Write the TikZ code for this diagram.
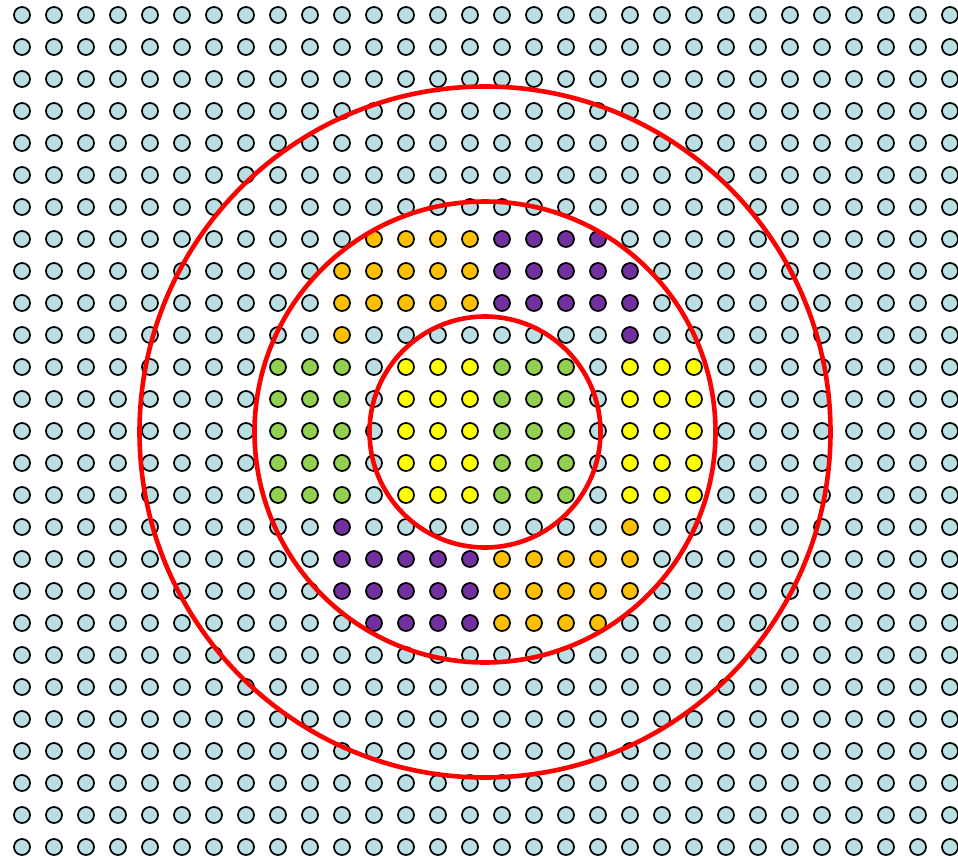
\documentclass[tikz,border=0pt]{standalone}
\definecolor{dotblue}{HTML}{B9DFE2}
\definecolor{dotorange}{HTML}{FFC000}
\definecolor{dotpurple}{HTML}{7030A0}
\definecolor{dotgreen}{HTML}{92D050}
\definecolor{dotyellow}{HTML}{FFFF00}
\definecolor{ringred}{HTML}{FF0000}
\begin{document}
\begin{tikzpicture}[x=1pt,y=-1pt,
  dot/.style={circle,draw=black,line width=1.7pt,minimum size=16pt,inner sep=0pt,fill=dotblue},
  ring/.style={draw=ringred,line width=4.6pt}]
\useasboundingbox (0,0) rectangle (958,859);
\foreach \i in {0,...,29}{
  \foreach \j in {0,...,26}{
    \def\col{dotblue}
    % orange top-left block
    \ifnum\j=7 \ifnum\i>10 \ifnum\i<15 \def\col{dotorange}\fi\fi\fi
    \ifnum\j>7 \ifnum\j<10 \ifnum\i>9 \ifnum\i<15 \def\col{dotorange}\fi\fi\fi\fi
    \ifnum\j=10 \ifnum\i=10 \def\col{dotorange}\fi\fi
    % purple top-right block
    \ifnum\j=7 \ifnum\i>14 \ifnum\i<19 \def\col{dotpurple}\fi\fi\fi
    \ifnum\j>7 \ifnum\j<10 \ifnum\i>14 \ifnum\i<20 \def\col{dotpurple}\fi\fi\fi\fi
    \ifnum\j=10 \ifnum\i=19 \def\col{dotpurple}\fi\fi
    % middle band
    \ifnum\j>10 \ifnum\j<16
      \ifnum\i>7 \ifnum\i<11 \def\col{dotgreen}\fi\fi
      \ifnum\i>11 \ifnum\i<15 \def\col{dotyellow}\fi\fi
      \ifnum\i>14 \ifnum\i<18 \def\col{dotgreen}\fi\fi
      \ifnum\i>18 \ifnum\i<22 \def\col{dotyellow}\fi\fi
    \fi\fi
    % purple bottom-left block
    \ifnum\j=16 \ifnum\i=10 \def\col{dotpurple}\fi\fi
    \ifnum\j>16 \ifnum\j<19 \ifnum\i>9 \ifnum\i<15 \def\col{dotpurple}\fi\fi\fi\fi
    \ifnum\j=19 \ifnum\i>10 \ifnum\i<15 \def\col{dotpurple}\fi\fi\fi
    % orange bottom-right block
    \ifnum\j=16 \ifnum\i=19 \def\col{dotorange}\fi\fi
    \ifnum\j>16 \ifnum\j<19 \ifnum\i>14 \ifnum\i<20 \def\col{dotorange}\fi\fi\fi\fi
    \ifnum\j=19 \ifnum\i>14 \ifnum\i<19 \def\col{dotorange}\fi\fi\fi
    \node[dot,fill=\col] (d-\i-\j) at ({22+32*\i},{15+32*\j}) {};
  }
}
\coordinate (c) at (485,432);
\draw[ring] (c) circle[radius=115.5];
\draw[ring] (c) circle[radius=230.5];
\draw[ring] (c) circle[radius=345.5];
\end{tikzpicture}
\end{document}
